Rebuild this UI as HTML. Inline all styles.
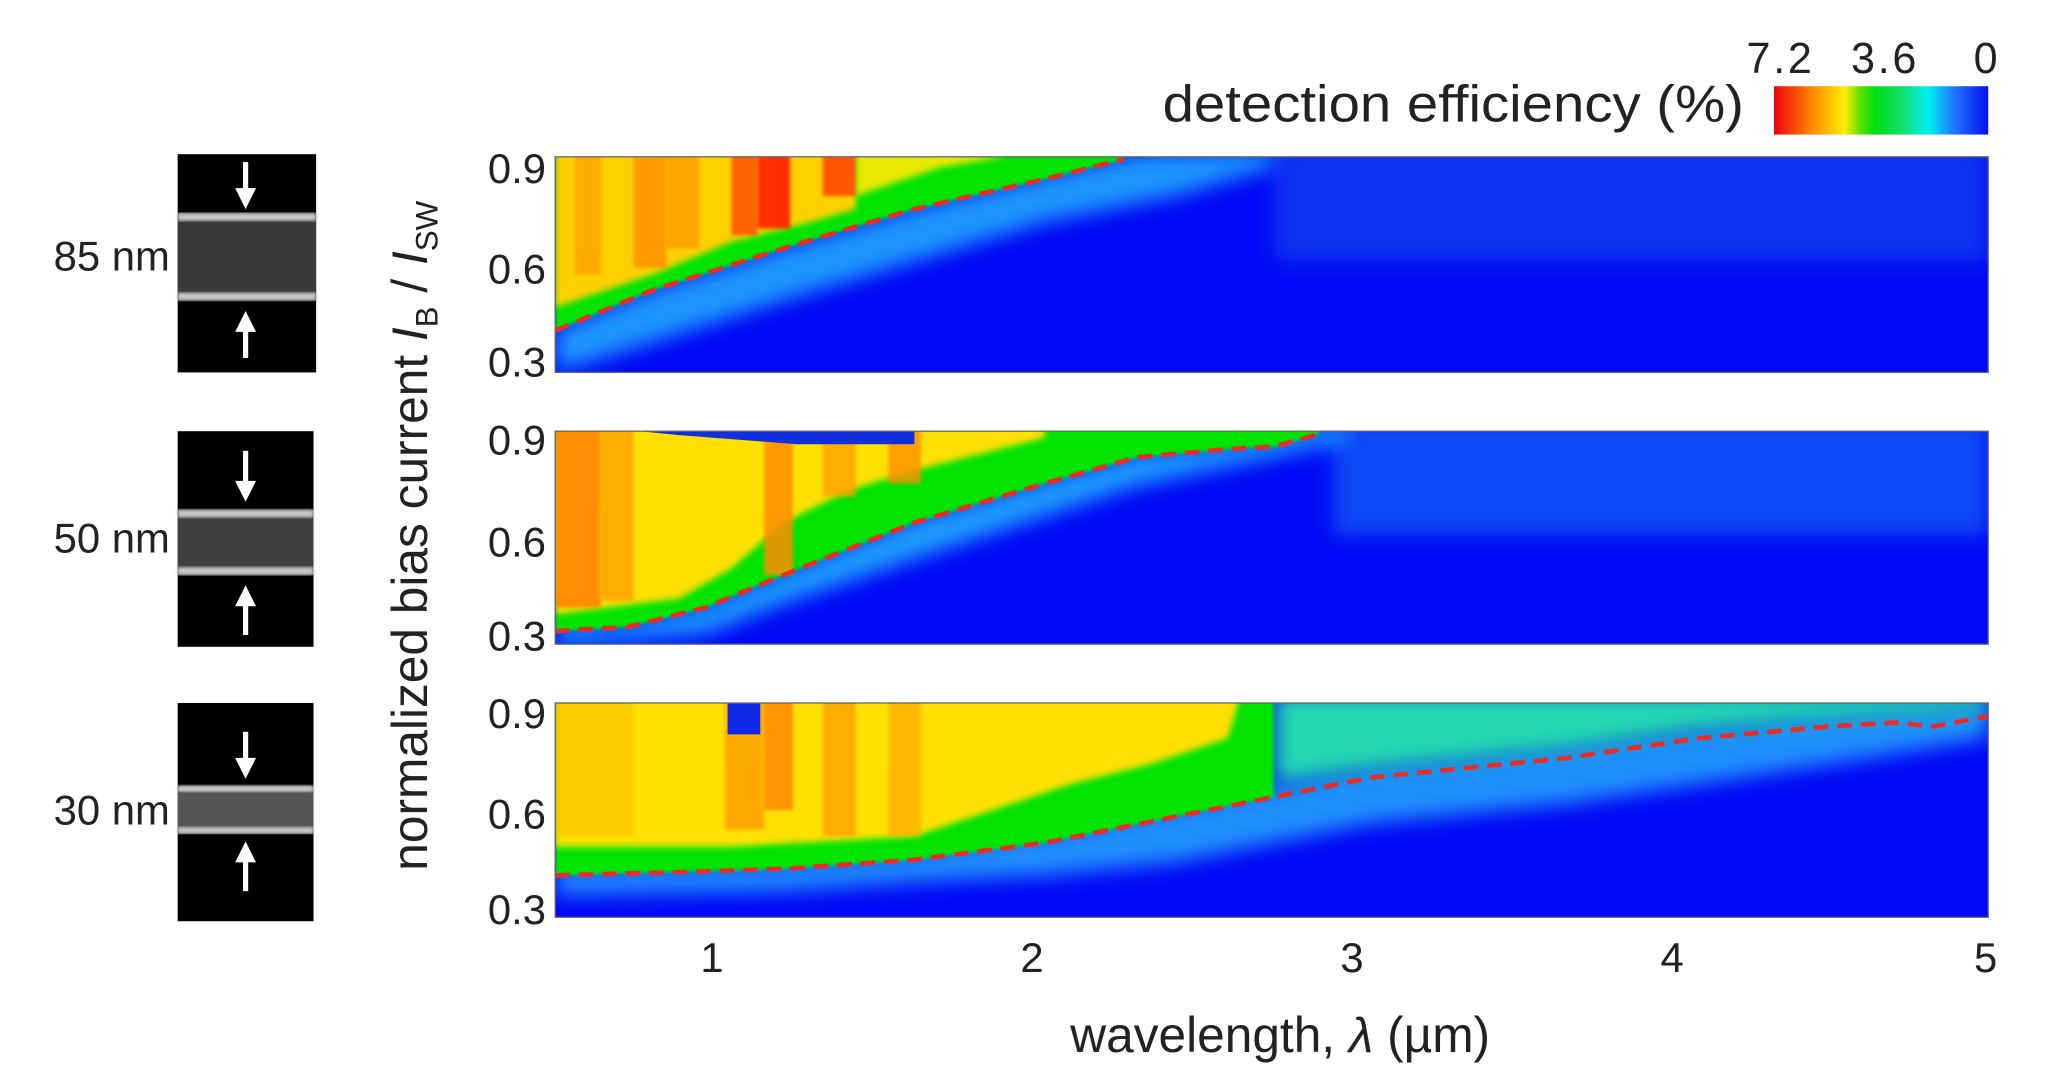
<!DOCTYPE html>
<html><head><meta charset="utf-8"><style>
html,body{margin:0;padding:0;background:#fff;}
svg{display:block;}
text{font-family:"Liberation Sans",sans-serif;fill:#222;}
</style></head><body>
<svg width="2047" height="1078" viewBox="0 0 1567 825" preserveAspectRatio="none" xmlns="http://www.w3.org/2000/svg">
<defs>
<linearGradient id="cb" x1="0" x2="1" y1="0" y2="0">
<stop offset="0" stop-color="#ee0010"/><stop offset="0.18" stop-color="#ff8a00"/>
<stop offset="0.33" stop-color="#ffee00"/><stop offset="0.4" stop-color="#60e000"/>
<stop offset="0.47" stop-color="#00e010"/><stop offset="0.6" stop-color="#10e070"/>
<stop offset="0.72" stop-color="#00f0f0"/><stop offset="0.85" stop-color="#2070ff"/>
<stop offset="1" stop-color="#0010f0"/></linearGradient>
<filter id="bl" x="-5%" y="-20%" width="110%" height="140%"><feGaussianBlur stdDeviation="8"/></filter>
<filter id="bl2"><feGaussianBlur stdDeviation="2.5"/></filter>
<filter id="bl3"><feGaussianBlur stdDeviation="1.2"/></filter>
<clipPath id="c1"><rect x="425" y="120" width="1097" height="165"/></clipPath>
<clipPath id="c2"><rect x="425" y="330" width="1097" height="163"/></clipPath>
<clipPath id="c3"><rect x="425" y="538" width="1097" height="164"/></clipPath>
</defs>

<!-- colorbar -->
<rect x="1358" y="66" width="164" height="37" fill="url(#cb)"/>
<text x="1362" y="56" font-size="33" text-anchor="middle" textLength="50">7.2</text>
<text x="1442" y="56" font-size="33" text-anchor="middle" textLength="50">3.6</text>
<text x="1520" y="56" font-size="33" text-anchor="middle">0</text>
<text x="890" y="93" font-size="40" textLength="445" lengthAdjust="spacingAndGlyphs">detection efficiency (%)</text>

<!-- Panel 1 -->
<g clip-path="url(#c1)">
<rect x="425" y="120" width="1097" height="165" fill="#0008f5"/>
<rect x="975" y="110" width="547" height="90" fill="#0a30f2" filter="url(#bl)"/>
<polygon points="425,252 500,221 600,189 700,159 800,134 870,117 975,115 975,128 900,150 800,170 700,200 600,230 500,262 425,285" fill="#20b0ff" opacity="0.85" filter="url(#bl)"/>
<polygon points="425,253 500,222 600,190 700,160 800,137 860,122 860,110 425,110" fill="#00e400" filter="url(#bl3)"/>
<polygon points="425,235 500,210 560,185 620,170 655,160 655,110 425,110" fill="#ffd000" filter="url(#bl2)"/>
<polygon points="655,150 720,128 770,120 655,110" fill="#e8e800" filter="url(#bl2)"/>
<rect x="440" y="110" width="20" height="100" fill="#ffa000" opacity="0.8" filter="url(#bl3)"/>
<rect x="485" y="110" width="25" height="95" fill="#ff8c00" opacity="0.8" filter="url(#bl3)"/>
<rect x="510" y="110" width="25" height="80" fill="#ff9000" opacity="0.7" filter="url(#bl3)"/>
<rect x="560" y="110" width="20" height="70" fill="#ff5000" opacity="0.85" filter="url(#bl3)"/>
<rect x="580" y="110" width="25" height="65" fill="#ff1800" opacity="0.85" filter="url(#bl3)"/>
<rect x="630" y="110" width="25" height="40" fill="#ff4000" opacity="0.85" filter="url(#bl3)"/>
<polyline points="425,253 500,222 600,190 700,160 800,137 860,122" fill="none" stroke="#ee2a22" stroke-width="3.5" stroke-dasharray="11 7"/>
</g>

<!-- Panel 2 -->
<g clip-path="url(#c2)">
<rect x="425" y="330" width="1097" height="163" fill="#0008f5"/>
<rect x="1020" y="320" width="502" height="90" fill="#0c48f5" filter="url(#bl)"/>
<polygon points="425,480 480,477 540,463 600,437 700,397 800,367 870,347 950,338 1030,324 1030,338 950,355 870,372 800,395 700,428 600,462 540,485 425,495" fill="#20b8ff" opacity="0.85" filter="url(#bl)"/>
<polygon points="425,483 480,480 540,465 600,440 700,400 800,370 870,350 950,343 975,342 1010,332 1010,320 425,320" fill="#00e400" filter="url(#bl3)"/>
<polygon points="425,470 520,458 560,435 600,400 650,375 700,360 760,345 800,335 800,320 425,320" fill="#ffe000" filter="url(#bl2)"/>
<rect x="425" y="320" width="35" height="145" fill="#ff8000" opacity="0.85" filter="url(#bl3)"/>
<rect x="460" y="320" width="25" height="140" fill="#ffa000" opacity="0.8" filter="url(#bl3)"/>
<rect x="585" y="320" width="22" height="120" fill="#ff8c00" opacity="0.85" filter="url(#bl3)"/>
<rect x="630" y="320" width="25" height="60" fill="#ffa000" opacity="0.8" filter="url(#bl3)"/>
<rect x="680" y="320" width="25" height="50" fill="#ff9000" opacity="0.8" filter="url(#bl3)"/>
<polygon points="490,330 700,330 700,340 610,340 520,333" fill="#1030e0"/>
<polyline points="425,483 480,480 540,465 600,440 700,400 800,370 870,350 950,343 975,342 1010,332" fill="none" stroke="#ee2a22" stroke-width="3.5" stroke-dasharray="11 7"/>
</g>

<!-- Panel 3 -->
<g clip-path="url(#c3)">
<rect x="425" y="538" width="1097" height="164" fill="#0008f5"/>
<polygon points="425,665 600,660 700,652 800,638 900,618 975,602 1050,588 1200,572 1300,558 1400,548 1522,540 1522,565 1400,585 1300,600 1200,615 1050,630 975,645 900,660 800,670 700,675 600,682 425,685" fill="#25a8ff" opacity="0.85" filter="url(#bl)"/>
<polygon points="975,530 1522,530 1522,545 1400,552 1300,560 1200,575 1100,585 1050,590 975,600" fill="#20d8b0" filter="url(#bl)"/>
<polygon points="425,670 600,665 700,658 800,645 900,625 975,610 975,530 425,530" fill="#00e400" filter="url(#bl3)"/>
<polygon points="425,648 560,648 700,640 760,620 820,600 880,585 940,565 950,530 425,530" fill="#ffe000" filter="url(#bl2)"/>
<rect x="425" y="530" width="60" height="110" fill="#ffc000" opacity="0.6" filter="url(#bl3)"/>
<rect x="555" y="530" width="30" height="105" fill="#ffa000" opacity="0.85" filter="url(#bl3)"/>
<rect x="585" y="530" width="22" height="90" fill="#ff8c00" opacity="0.9" filter="url(#bl3)"/>
<rect x="630" y="530" width="25" height="110" fill="#ffa000" opacity="0.8" filter="url(#bl3)"/>
<rect x="680" y="530" width="25" height="110" fill="#ffa800" opacity="0.7" filter="url(#bl3)"/>
<rect x="557" y="538" width="25" height="24" fill="#1028e8"/>
<polyline points="425,670 500,668 600,665 700,658 800,645 900,625 975,610 1050,595 1200,580 1300,565 1400,556 1450,553 1480,556 1522,548" fill="none" stroke="#ee2a22" stroke-width="3.5" stroke-dasharray="11 7"/>
</g>

<!-- panel borders -->
<g fill="none" stroke="#666" stroke-width="1">
<rect x="425" y="120" width="1097" height="165"/>
<rect x="425" y="330" width="1097" height="163"/>
<rect x="425" y="538" width="1097" height="164"/>
</g>

<!-- y ticks -->
<g font-size="32" text-anchor="end">
<text x="418" y="140">0.9</text><text x="418" y="217">0.6</text><text x="418" y="288">0.3</text>
<text x="418" y="348">0.9</text><text x="418" y="426">0.6</text><text x="418" y="498">0.3</text>
<text x="418" y="557">0.9</text><text x="418" y="634">0.6</text><text x="418" y="707">0.3</text>
</g>
<!-- x ticks -->
<g font-size="32" text-anchor="middle">
<text x="545" y="744">1</text><text x="790" y="744">2</text><text x="1035" y="744">3</text><text x="1280" y="744">4</text><text x="1520" y="744">5</text>
</g>
<text x="980" y="805" font-size="38" text-anchor="middle">wavelength, <tspan font-style="italic">λ</tspan> (µm)</text>
<text transform="translate(327,410) rotate(-90)" font-size="38" text-anchor="middle">normalized bias current <tspan font-style="italic">I</tspan><tspan font-size="24" dy="8">B</tspan><tspan dy="-8"> / </tspan><tspan font-style="italic">I</tspan><tspan font-size="24" dy="8">SW</tspan></text>

<!-- thumbnails -->
<g>
<rect x="136" y="118" width="106" height="167" fill="#000"/>
<rect x="136" y="163" width="106" height="67" fill="#3a3a3a"/>
<rect x="136" y="163" width="106" height="6" fill="#c8c8c8" filter="url(#bl3)"/>
<rect x="136" y="224" width="106" height="6" fill="#c8c8c8" filter="url(#bl3)"/>
<rect x="186" y="124" width="4" height="22" fill="#fff"/><polygon points="180,144 196,144 188,160" fill="#fff"/>
<rect x="186" y="250" width="4" height="24" fill="#fff"/><polygon points="180,254 196,254 188,238" fill="#fff"/>
<text x="130" y="207" font-size="32" text-anchor="end">85 nm</text>

<rect x="136" y="330" width="104" height="165" fill="#000"/>
<rect x="136" y="390" width="104" height="50" fill="#404040"/>
<rect x="136" y="390" width="104" height="6" fill="#c8c8c8" filter="url(#bl3)"/>
<rect x="136" y="434" width="104" height="6" fill="#c8c8c8" filter="url(#bl3)"/>
<rect x="186" y="345" width="4" height="26" fill="#fff"/><polygon points="180,368 196,368 188,384" fill="#fff"/>
<rect x="186" y="462" width="4" height="24" fill="#fff"/><polygon points="180,464 196,464 188,448" fill="#fff"/>
<text x="130" y="423" font-size="32" text-anchor="end">50 nm</text>

<rect x="136" y="538" width="104" height="167" fill="#000"/>
<rect x="136" y="602" width="104" height="36" fill="#555"/>
<rect x="136" y="601" width="104" height="5" fill="#c8c8c8" filter="url(#bl3)"/>
<rect x="136" y="633" width="104" height="5" fill="#c8c8c8" filter="url(#bl3)"/>
<rect x="186" y="560" width="4" height="24" fill="#fff"/><polygon points="180,580 196,580 188,596" fill="#fff"/>
<rect x="186" y="658" width="4" height="24" fill="#fff"/><polygon points="180,660 196,660 188,644" fill="#fff"/>
<text x="130" y="631" font-size="32" text-anchor="end">30 nm</text>
</g>
</svg>
</body></html>
